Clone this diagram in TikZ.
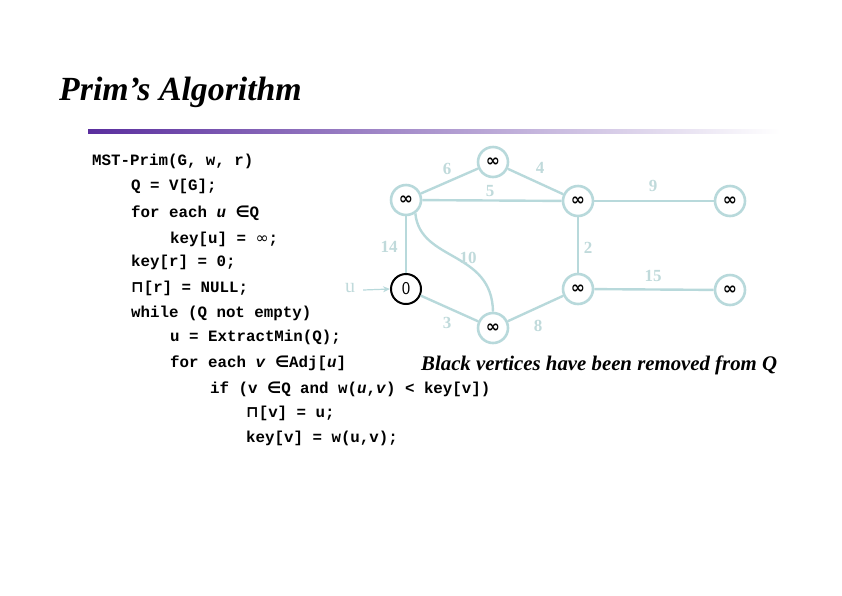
\documentclass[tikz,border=0pt]{standalone}
\usepackage{fontspec}
\setmainfont{Liberation Serif}
\setmonofont{Liberation Mono}
\newfontfamily\symfont{DejaVu Sans}
\usepackage{xcolor}
\usepackage{tikz}
\usetikzlibrary{
  arrows.meta,
  positioning
}
\definecolor{EdgeTeal}{HTML}{B8D9DB}
\definecolor{LabelTeal}{HTML}{C0DADB}
\definecolor{RulePurple}{HTML}{5A2E9E}
\newcommand{\codefont}{\ttfamily\bfseries\fontsize{15.8}{19}\selectfont}
\newcommand{\inff}{{\symfont\bfseries ∞}}
\newcommand{\elem}{{\symfont ∈}}
\newcommand{\piglyph}{{\symfont ⊓}}

\begin{document}
\begin{tikzpicture}[x=1pt,y=-1pt,
  code/.style={anchor=base west,inner sep=0pt,font=\codefont},
  vert/.style={circle,draw=EdgeTeal,line width=2.6pt,minimum size=30pt,
               inner sep=0pt,fill=white,font=\fontsize{17}{17}\selectfont},
  wlab/.style={text=LabelTeal,font=\bfseries\fontsize{17}{17}\selectfont,inner sep=0pt},
  edge/.style={draw=EdgeTeal,line width=2.4pt}]
  \useasboundingbox (0,0) rectangle (842,595);

  % title and rule
  \node[anchor=base west,inner sep=0pt,font=\bfseries\itshape\fontsize{33.8}{34}\selectfont]
    (title) at (59,100) {Prim’s Algorithm};
  \shade[left color=RulePurple,right color=white] (88,129) rectangle (780,133);

  % pseudo code
  \node[code] (l1) at (92,165) {MST-Prim(G, w, r)};
  \node[code] (l2) at (131,190) {Q = V[G];};
  \node[code] (l3) at (131,217) {for each \textit{u} \elem Q};
  \node[code] (l4) at (170,243) {key[u] = {\symfont\mdseries ∞};};
  \node[code] (l5) at (131,266) {key[r] = 0;};
  \node[code] (l6) at (131,292) {\piglyph[r] = NULL;};
  \node[code] (l7) at (131,317) {while (Q not empty)};
  \node[code] (l8) at (170,341) {u = ExtractMin(Q);};
  \node[code] (l9) at (170,367) {for each \textit{v} \elem Adj[\textit{u}]};
  \node[code] (l10) at (210,393) {if (v \elem Q and w(\textit{u},\textit{v}) < key[v])};
  \node[code] (l11) at (246,417) {\piglyph[v] = u;};
  \node[code] (l12) at (246,442) {key[v] = w(u,v);};

  % graph
  \node[vert] (top) at (493,162) {\inff};
  \node[vert] (a) at (406,200) {\inff};
  \node[vert] (c) at (578,201) {\inff};
  \node[vert] (fr1) at (730,201) {\inff};
  \node[vert,draw=black,line width=2pt,font=\sffamily\fontsize{18}{18}\selectfont] (r) at (406,289) {0};
  \node[vert] (bot) at (493,328) {\inff};
  \node[vert] (m) at (578,289) {\inff};
  \node[vert] (fr2) at (730,290) {\inff};

  \draw[edge] (a) -- (top);
  \draw[edge] (top) -- (c);
  \draw[edge] (a) -- (c);
  \draw[edge] (c) -- (fr1);
  \draw[edge] (c) -- (m);
  \draw[edge] (a) -- (r);
  \draw[edge] (a.-55) .. controls (420,262) and (492,250) .. (bot.north);
  \draw[edge] (r) -- (bot);
  \draw[edge] (bot) -- (m);
  \draw[edge] (m) -- (fr2);

  \node[wlab] (w6) at (447,169) {6};
  \node[wlab] (w4) at (540,168) {4};
  \node[wlab] (w5) at (490,191) {5};
  \node[wlab] (w9) at (653,186) {9};
  \node[wlab] (w2) at (588,248) {2};
  \node[wlab] (w14) at (389,247) {14};
  \node[wlab] (w10) at (468,258) {10};
  \node[wlab] (w3) at (447,323) {3};
  \node[wlab] (w8) at (538,326) {8};
  \node[wlab] (w15) at (653,276) {15};

  % current vertex marker
  \node[text=LabelTeal,font=\fontsize{20}{20}\selectfont,inner sep=0pt] (ulab) at (350,288) {u};
  \draw[EdgeTeal,line width=1.2pt,-{Stealth[length=7pt,width=6pt]}] (ulab.east) ++(8,2) coordinate (ustart)
    (ustart) -- (r.west);

  \node[anchor=base west,inner sep=0pt,font=\bfseries\itshape\fontsize{20.8}{21}\selectfont]
    (note) at (421,370) {Black vertices have been removed from Q};
\end{tikzpicture}
\end{document}
